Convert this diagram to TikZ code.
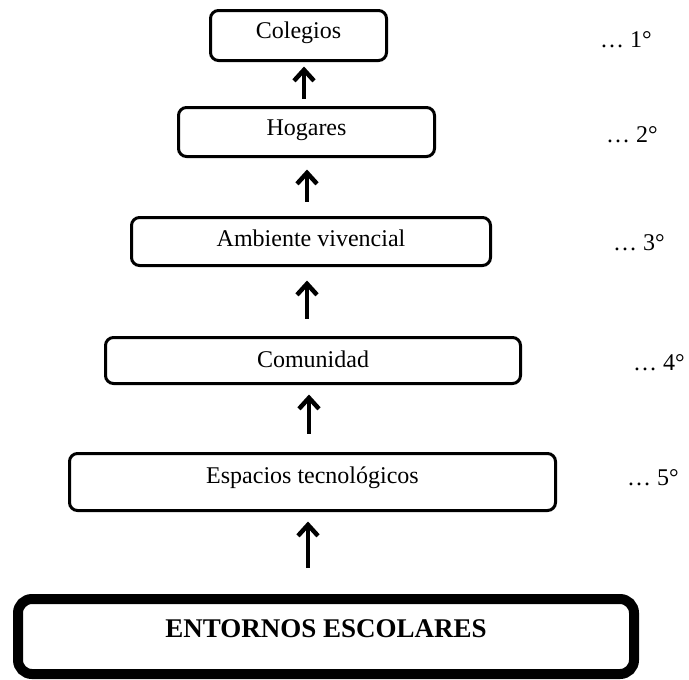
\documentclass[tikz,border=0pt]{standalone}
\usepackage{fontspec}
\setmainfont{Liberation Serif}
\usetikzlibrary{arrows.meta}
\tikzset{
  box/.style={draw, line width=3pt, rounded corners=8pt, inner sep=0pt, anchor=base, font=\fontsize{24}{28}\selectfont},
  bigbox/.style={box, line width=10pt, rounded corners=14pt, font=\fontsize{27}{32}\selectfont\bfseries},
  up/.style={line width=4.5pt, -{Straight Barb[length=11pt,width=20pt]}},
  rank/.style={anchor=base west, inner sep=0pt, font=\fontsize{24}{28}\selectfont}
}
\begin{document}
\begin{tikzpicture}[x=1pt, y=-1pt]
        \useasboundingbox (0,0) rectangle (689,680);
        \node[box, minimum width=176pt, text height=27.5pt, text depth=22.5pt] (col) at (298.5,38) {Colegios};
        \node[box, minimum width=256pt, text height=27.5pt, text depth=21.5pt] (hog) at (306.5,135) {Hogares};
        \node[box, minimum width=359pt, text height=28.5pt, text depth=19.5pt] (amb) at (311,246) {Ambiente vivencial};
        \node[box, minimum width=415pt, text height=29.5pt, text depth=16.5pt] (com) at (313,367) {Comunidad};
        \node[box, minimum width=486pt, text height=29.5pt, text depth=27.5pt] (esp) at (312.5,483) {Espacios tecnológicos};
        \node[bigbox, minimum width=616pt, text height=38pt, text depth=37pt] (ent) at (326,637) {ENTORNOS ESCOLARES};
        % Levels on the right
        \node[rank] (r1) at (600,47) {… 1°};
        \node[rank] (r2) at (606,142) {… 2°};
        \node[rank] (r3) at (613,250) {… 3°};
        \node[rank] (r4) at (633,370) {… 4°};
        \node[rank] (r5) at (627,485) {… 5°};
        % Arrows going up
        \draw[up, shorten <=7.5pt, shorten >=4.5pt] ([xshift=-2.5pt]hog.north) -- ([xshift=5.5pt]col.south);
        \draw[up, shorten <=14.5pt, shorten >=11.5pt] ([xshift=-4pt]amb.north) -- ([xshift=0.5pt]hog.south);
        \draw[up, shorten <=17.5pt, shorten >=13.5pt] ([xshift=-6pt]com.north) -- ([xshift=-4pt]amb.south);
        \draw[up, shorten <=18.5pt, shorten >=9.5pt] ([xshift=-3.5pt]esp.north) -- ([xshift=-4pt]com.south);
        \draw[up, shorten <=26pt, shorten >=9.5pt] ([xshift=-18pt]ent.north) -- ([xshift=-4.5pt]esp.south);
    \end{tikzpicture}
\end{document}
